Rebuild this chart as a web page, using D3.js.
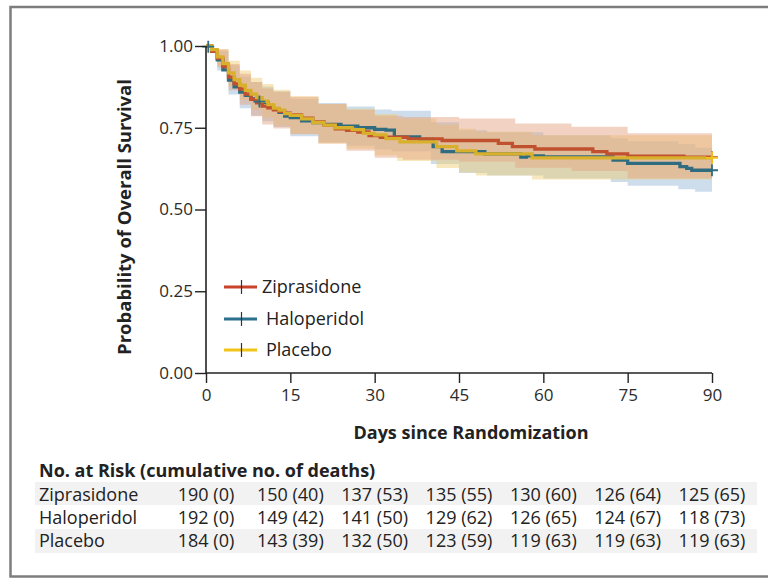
<!DOCTYPE html>
<html><head><meta charset="utf-8">
<script src="https://cdn.jsdelivr.net/npm/d3@7"></script>
<style>
html,body{margin:0;padding:0;background:#fff;}
svg text{font-family:"Open Sans","Noto Sans",sans-serif;fill:#222;}
</style></head>
<body>
<svg id="chart" width="768" height="579"></svg>
<script>
// ---------- DATA ----------
const seriesNames = ["Ziprasidone", "Haloperidol", "Placebo"];
const xTicks = [0, 15, 30, 45, 60, 75, 90];
const yTicks = [0, 0.25, 0.5, 0.75, 1.0];
const yTickLabels = ["0.00", "0.25", "0.50", "0.75", "1.00"];

// Kaplan-Meier step estimates (day, survival)
const zipTimes = [0,1,2,3,4,5,6,7,8,9,10,11,12,13,14,15,17,19,21,23,25,27,29,31,36,42,52,54.5,58.5,68.8,71.3,75,85,90];
const zipSurv  = [1,0.984,0.963,0.937,0.905,0.884,0.868,0.853,0.837,0.826,0.816,0.811,0.805,0.800,0.795,0.789,0.779,0.768,0.758,0.747,0.742,0.737,0.726,0.721,0.716,0.711,0.702,0.692,0.685,0.677,0.670,0.663,0.660,0.660];
const halTimes = [0,1,2,3,4,5,6,7,8,9,11,12,13,14,15,17,19,21,24,27,30,32,33.5,38,40.4,42,49.6,56,57,60,72.4,75,84.3,85.5,86.4,90];
const halSurv  = [1,0.984,0.958,0.927,0.896,0.875,0.859,0.849,0.838,0.828,0.818,0.807,0.797,0.786,0.781,0.771,0.766,0.760,0.755,0.750,0.745,0.743,0.722,0.714,0.692,0.677,0.670,0.660,0.664,0.661,0.651,0.641,0.631,0.626,0.620,0.620];
const plaTimes = [0,1,2,3,4,5,6,7,8,9,10,11,12,13,14,15,17,19,21,23,26,28,30,32,34.5,41,44.6,48,58,90];
const plaSurv  = [1,0.989,0.967,0.946,0.918,0.897,0.880,0.864,0.853,0.842,0.831,0.821,0.810,0.804,0.793,0.788,0.777,0.766,0.758,0.750,0.744,0.733,0.728,0.717,0.707,0.692,0.679,0.670,0.658,0.658];

// 95% confidence bands (day, lower, upper)
const zipBandTimes = [0,2,4,6,8,10,12,15,20,25,30,35,45,55,65,75,90];
const zipLower = [1,0.935,0.865,0.820,0.785,0.760,0.748,0.730,0.702,0.680,0.658,0.652,0.646,0.628,0.618,0.595,0.590];
const zipUpper = [1,0.990,0.945,0.915,0.890,0.870,0.860,0.845,0.823,0.805,0.787,0.783,0.778,0.763,0.753,0.733,0.728];
const halBandTimes = [0,2,4,6,8,10,12,15,20,25,30,33,40,45,50,60,72,75,84,87,90];
const halLower = [1,0.925,0.852,0.810,0.787,0.770,0.752,0.724,0.706,0.695,0.684,0.678,0.639,0.612,0.604,0.595,0.584,0.573,0.562,0.554,0.554];
const halUpper = [1,0.985,0.940,0.907,0.890,0.876,0.862,0.838,0.826,0.815,0.806,0.802,0.767,0.742,0.736,0.727,0.718,0.709,0.700,0.689,0.689];
const plaBandTimes = [0,2,4,6,8,10,12,15,20,25,30,34,41,45,48,58,90];
const plaLower = [1,0.940,0.878,0.835,0.805,0.780,0.756,0.732,0.702,0.686,0.666,0.648,0.627,0.613,0.604,0.592,0.592];
const plaUpper = [1,0.990,0.955,0.925,0.903,0.884,0.866,0.846,0.823,0.808,0.792,0.778,0.759,0.747,0.738,0.727,0.727];

// censor marks (day, survival)
const zipCensor = [[90, 0.660]];
const halCensor = [[0.4, 0.998], [9.5, 0.830], [90, 0.620]];
const plaCensor = [[90, 0.658]];

// number at risk (cumulative deaths)
const riskZip = ["190 (0)", "150 (40)", "137 (53)", "135 (55)", "130 (60)", "126 (64)", "125 (65)"];
const riskHal = ["192 (0)", "149 (42)", "141 (50)", "129 (62)", "126 (65)", "124 (67)", "118 (73)"];
const riskPla = ["184 (0)", "143 (39)", "132 (50)", "123 (59)", "119 (63)", "119 (63)", "119 (63)"];

// ---------- DRAW ----------
const svg = d3.select("#chart");
const lineColors = ["#c0502e", "#2f6c80", "#d9b02c"];
const legendColors = ["#c9432a", "#2a6f8e", "#f0c419"];
const bandColors = ["#e4a282", "#98b8d8", "#efcd72"];

const x = d3.scaleLinear().domain([0, 90]).range([206, 712]);
const y = d3.scaleLinear().domain([0, 1]).range([373, 46]);

// frame
svg.append("rect").attr("x", 10.5).attr("y", 7).attr("width", 800).attr("height", 569.5)
  .attr("fill", "none").attr("stroke", "#7d7d7d").attr("stroke-width", 2.5);

const series = [
  {t: zipTimes, s: zipSurv, bt: zipBandTimes, lo: zipLower, hi: zipUpper, c: zipCensor},
  {t: halTimes, s: halSurv, bt: halBandTimes, lo: halLower, hi: halUpper, c: halCensor},
  {t: plaTimes, s: plaSurv, bt: plaBandTimes, lo: plaLower, hi: plaUpper, c: plaCensor}
];

const area = d3.area().curve(d3.curveStepAfter)
  .x(d => x(d[0])).y0(d => y(d[1])).y1(d => y(d[2]));
const line = d3.line().curve(d3.curveStepAfter)
  .x(d => x(d[0])).y(d => y(d[1]));

const bandG = svg.append("g");
[1, 2, 0].forEach(i => {
  const s = series[i];
  bandG.append("path")
    .datum(s.bt.map((t, k) => [t, s.lo[k], s.hi[k]]))
    .attr("d", area).attr("fill", bandColors[i]).attr("fill-opacity", 0.48);
});

const lineG = svg.append("g");
[1, 0, 2].forEach(i => {
  const s = series[i];
  lineG.append("path")
    .datum(s.t.map((t, k) => [t, s.s[k]]))
    .attr("d", line).attr("fill", "none").attr("stroke", lineColors[i])
    .attr("stroke-width", 3.3);
});

// censor marks
series.forEach((s, i) => {
  s.c.forEach(p => {
    const cx = x(p[0]), cy = y(p[1]);
    svg.append("path").attr("d", `M${cx-6},${cy}H${cx+6}M${cx},${cy-6}V${cy+6}`)
      .attr("stroke", i === 2 ? "#f0c419" : lineColors[i]).attr("stroke-width", 1.8);
  });
});

// axes
const xAxis = d3.axisBottom(x).tickValues(xTicks).tickSize(10).tickPadding(6);
const gx = svg.append("g").attr("transform", "translate(0,373)").call(xAxis);
gx.select(".domain").attr("stroke", "#222").attr("stroke-width", 1.6).attr("d", "M206,0H712");
gx.selectAll(".tick line").attr("stroke", "#222").attr("stroke-width", 1.4);
gx.selectAll(".tick text").attr("font-size", 17).style("fill", "#2b2b2b")
  .style("font-family", '"Open Sans",sans-serif');

const yAxis = d3.axisLeft(y).tickValues(yTicks).tickSize(11).tickPadding(2)
  .tickFormat((d, i) => yTickLabels[i]);
const gy = svg.append("g").attr("transform", "translate(206,0)").call(yAxis);
gy.select(".domain").attr("stroke", "#222").attr("stroke-width", 1.6).attr("d", "M0,46V373");
gy.selectAll(".tick line").attr("stroke", "#222").attr("stroke-width", 1.4);
gy.selectAll(".tick text").attr("font-size", 17).style("fill", "#2b2b2b")
  .style("font-family", '"Open Sans",sans-serif');

// axis titles
svg.append("text").attr("x", 471).attr("y", 439).attr("text-anchor", "middle")
  .attr("font-size", 18).attr("font-weight", "bold").text("Days since Randomization");
svg.append("text").attr("transform", "translate(131,217) rotate(-90)").attr("text-anchor", "middle")
  .attr("font-size", 18.5).attr("font-weight", "bold").text("Probability of Overall Survival");

// legend
const legY = [287, 319, 350];
const legX = [262, 266, 266];
seriesNames.forEach((n, i) => {
  svg.append("line").attr("x1", 224).attr("x2", 257).attr("y1", legY[i]).attr("y2", legY[i])
    .attr("stroke", legendColors[i]).attr("stroke-width", 3.2);
  svg.append("line").attr("x1", 241.5).attr("x2", 241.5).attr("y1", legY[i] - 7).attr("y2", legY[i] + 7)
    .attr("stroke", "#333").attr("stroke-width", 1.2);
  svg.append("text").attr("x", legX[i]).attr("y", legY[i] + 6).attr("font-size", 18).text(n);
});

// risk table
svg.append("text").attr("x", 39).attr("y", 477).attr("font-size", 18).attr("font-weight", "bold")
  .text("No. at Risk (cumulative no. of deaths)");
const rowsData = [riskZip, riskHal, riskPla];
const rowY = [501, 524, 547];
svg.append("rect").attr("x", 35).attr("y", 482).attr("width", 722).attr("height", 23).attr("fill", "#f2f2f2");
svg.append("rect").attr("x", 35).attr("y", 529).attr("width", 722).attr("height", 24).attr("fill", "#f2f2f2");
rowsData.forEach((row, r) => {
  svg.append("text").attr("x", 39).attr("y", rowY[r]).attr("font-size", 18).text(seriesNames[r]);
  row.forEach((v, k) => {
    svg.append("text").attr("x", x(xTicks[k])).attr("y", rowY[r]).attr("text-anchor", "middle")
      .attr("font-size", 18).text(v);
  });
});
</script>
</body></html>
